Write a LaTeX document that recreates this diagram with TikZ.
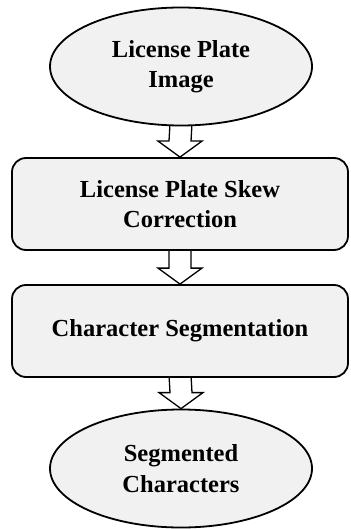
\documentclass[tikz,border=0pt]{standalone}
\usepackage{fontspec}
\setmainfont{Liberation Serif}
\usetikzlibrary{shapes.geometric,calc}
\pgfdeclarelayer{bg}
\pgfsetlayers{bg,main}
\definecolor{boxfill}{HTML}{F1F1F1}
\tikzset{
  base/.style={draw=black, line width=1.8pt, fill=boxfill, inner sep=0pt,
    align=center, font=\fontsize{24.5}{30.5}\selectfont\bfseries},
  terminal/.style={base, ellipse, minimum width=262pt, minimum height=118pt},
  process/.style={base, rectangle, rounded corners=14pt,
    minimum width=336pt, minimum height=92pt},
  blockarr/.style={draw=black, line width=1.3pt, fill=white, line join=miter}
}
% hollow block arrow from the bottom of one node to the top of the next
\newcommand{\blockarrow}[2]{%
  \begin{pgfonlayer}{bg}
  \filldraw[blockarr] ($(#1.south)+(-11,-3)$) -- ($(#2.north)+(-11,-16)$)
    -- ($(#2.north)+(-22,-16)$) -- (#2.north) -- ($(#2.north)+(22,-16)$)
    -- ($(#2.north)+(11,-16)$) -- ($(#1.south)+(11,-3)$) -- cycle;
  \end{pgfonlayer}}
\begin{document}
\begin{tikzpicture}[x=1pt, y=-1pt]
  \useasboundingbox (0,0) rectangle (350,529);
  \node[terminal] (img) at (181,66.5) {License Plate\\Image};
  \node[process] (skew) at (180,204) {License Plate Skew\\Correction};
  \node[process] (seg) at (180,331) {Character Segmentation};
  \node[terminal] (out) at (181,468.5) {Segmented\\Characters};
  \blockarrow{img}{skew}
  \blockarrow{skew}{seg}
  \blockarrow{seg}{out}
\end{tikzpicture}
\end{document}
